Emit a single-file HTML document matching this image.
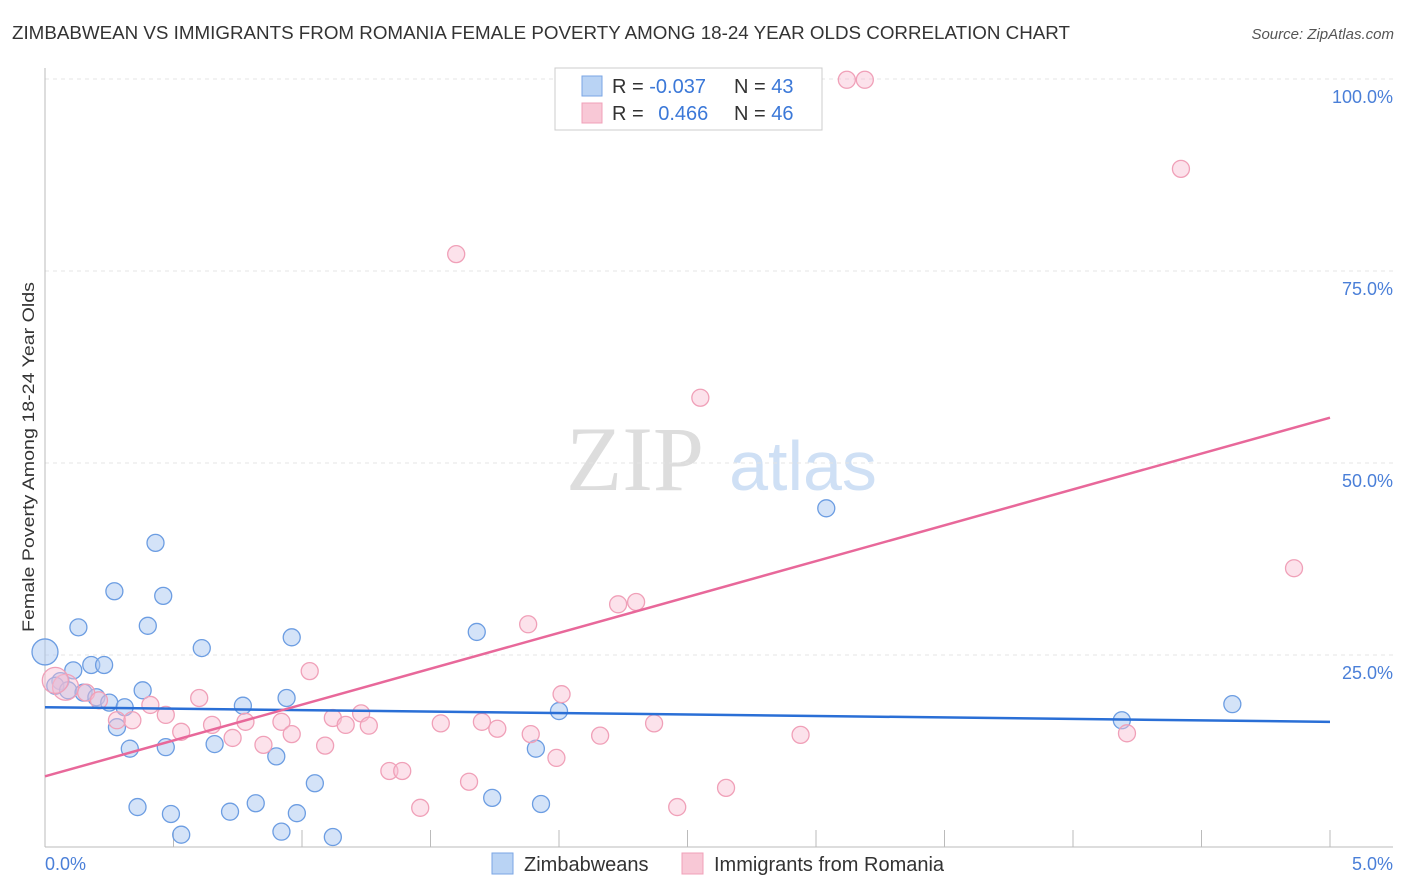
<!DOCTYPE html>
<html><head><meta charset="utf-8"><style>
body{margin:0;background:#fff;font-family:"Liberation Sans",sans-serif;}
svg{display:block}
</style></head><body>
<svg id="chart" width="1406" height="892" xmlns="http://www.w3.org/2000/svg">
<text x="12" y="39" font-size="18" fill="#333" textLength="1058" lengthAdjust="spacingAndGlyphs">ZIMBABWEAN VS IMMIGRANTS FROM ROMANIA FEMALE POVERTY AMONG 18-24 YEAR OLDS CORRELATION CHART</text>
<text x="1394" y="39" font-size="15" fill="#555" font-style="italic" text-anchor="end">Source: ZipAtlas.com</text>
<text x="0" y="0" transform="translate(34,457) rotate(-90)" font-size="17" fill="#333" text-anchor="middle" textLength="350" lengthAdjust="spacingAndGlyphs">Female Poverty Among 18-24 Year Olds</text>
<g>
<text x="635" y="490" font-size="92" font-family="Liberation Serif,serif" fill="#ddd" text-anchor="middle">ZIP</text>
<text x="803" y="490" font-size="70" fill="#cfe0f5" text-anchor="middle">atlas</text>
</g>
<g id="grid"></g>
<g id="axes"></g>
<g id="marks"></g>
<g>
<rect x="555" y="68" width="267" height="62" fill="#fff" stroke="#ccc"/>
<rect x="582" y="76" width="20" height="20" fill="#b9d3f4" stroke="#7aa6e4"/>
<rect x="582" y="103" width="20" height="20" fill="#f8c8d6" stroke="#f0a0b8"/>
<text x="612" y="93" font-size="20" fill="#333">R = <tspan fill="#3b78d8">-0.037</tspan></text>
<text x="734" y="93" font-size="20" fill="#333">N = <tspan fill="#3b78d8">43</tspan></text>
<text x="612" y="120" font-size="20" fill="#333">R = <tspan fill="#3b78d8" dx="9">0.466</tspan></text>
<text x="734" y="120" font-size="20" fill="#333">N = <tspan fill="#3b78d8">46</tspan></text>
</g>
<g>
<rect x="492" y="853" width="21" height="21" fill="#b9d3f4" stroke="#7aa6e4"/>
<text x="524" y="871" font-size="20" fill="#333">Zimbabweans</text>
<rect x="682" y="853" width="21" height="21" fill="#f8c8d6" stroke="#f0a0b8"/>
<text x="714" y="871" font-size="20" fill="#333">Immigrants from Romania</text>
</g>
</svg>
<script>
const blueX=[0.00,0.13,0.27,0.43,0.46,0.40,0.61,0.11,0.18,0.23,0.06,0.04,0.09,0.15,0.20,0.25,0.31,0.28,0.38,0.33,0.47,0.66,0.77,0.94,0.96,0.90,1.05,0.36,0.49,0.72,0.82,0.98,0.53,0.92,1.12,1.68,2.00,1.91,1.74,1.93,3.04,4.19,4.62];
const blueY=[25.4,28.6,33.3,39.6,32.7,28.8,25.9,23.0,23.7,23.7,21.6,21.0,20.4,20.1,19.5,18.8,18.2,15.6,20.4,12.8,13.0,13.4,18.4,19.4,27.3,11.8,8.3,5.2,4.3,4.6,5.7,4.4,1.6,2.0,1.3,28.0,17.7,12.8,6.4,5.6,44.1,16.5,18.6];
const pinkX=[3.12,3.19,4.42,1.60,2.55,4.86,2.23,2.30,1.88,1.03,2.01,0.60,0.16,0.08,0.04,0.21,0.41,0.47,0.53,0.28,0.34,0.65,0.73,0.78,0.85,0.92,0.96,1.09,1.12,1.17,1.23,1.26,1.54,1.70,1.76,1.89,2.16,2.37,2.94,4.21,1.34,1.39,1.65,1.99,1.46,2.46,2.65];
const pinkY=[99.9,99.9,88.3,77.2,58.5,36.3,31.6,31.9,29.0,22.9,19.9,19.4,20.1,20.8,21.7,19.1,18.5,17.2,15.0,16.5,16.5,15.9,14.2,16.3,13.3,16.3,14.7,13.2,16.8,15.9,17.4,15.8,16.1,16.3,15.4,14.7,14.5,16.1,14.6,14.8,9.9,9.9,8.5,11.6,5.1,5.2,7.7];
const blueTrend=[18.2,16.3];
const pinkTrend=[9.2,55.9];
const yTicks=[25,50,75,100];
const yTickLabels=["25.0%","50.0%","75.0%","100.0%"];
const xTicks=[0,0.5,1,1.5,2,2.5,3,3.5,4,4.5,5];
const NS="http://www.w3.org/2000/svg";
const sx=v=>45+v*257, sy=v=>847-v*7.68;
function mk(t,a,p){const e=document.createElementNS(NS,t);for(const k in a)e.setAttribute(k,a[k]);p.appendChild(e);return e;}
const grid=document.getElementById('grid'),axes=document.getElementById('axes'),marks=document.getElementById('marks');
yTicks.forEach((v,i)=>{
 const l=mk('line',{x1:45,x2:1393,y1:sy(v),y2:sy(v),stroke:'#e4e4e4','stroke-dasharray':'4,4'},grid);
 
 
 const t=mk('text',{x:1393,y:sy(v)+24,'font-size':18,fill:'#4a7fd8','text-anchor':'end'},axes);
 t.textContent=yTickLabels[i];
 
 
});
mk('line',{x1:45,x2:45,y1:68,y2:847,stroke:'#bbb'},axes);
mk('line',{x1:45,x2:1393,y1:847,y2:847,stroke:'#bbb'},axes);
xTicks.forEach(v=>{const l=mk('line',{x1:sx(v),x2:sx(v),y1:830,y2:847,stroke:'#bbb'},axes);
 
 });
const x0=mk('text',{x:45,y:870,'font-size':18,fill:'#4a7fd8'},axes);x0.textContent='0.0%';


const x1=mk('text',{x:1393,y:870,'font-size':18,fill:'#4a7fd8','text-anchor':'end'},axes);x1.textContent='5.0%';


blueX.forEach((x,i)=>{const c=mk('circle',{cx:sx(x),cy:sy(blueY[i]),r:i===0?13:8.5,fill:'rgba(170,200,242,0.5)',stroke:'#6c9de2','stroke-width':1.3},marks);
 
 });
pinkX.forEach((x,i)=>{const c=mk('circle',{cx:sx(x),cy:sy(pinkY[i]),r:(i===13||i===14)?13:8.5,fill:'rgba(248,190,210,0.45)',stroke:'#f0a0b8','stroke-width':1.3},marks);
 
 });
const bl=mk('line',{x1:sx(0),x2:sx(5),y1:sy(blueTrend[0]),y2:sy(blueTrend[1]),stroke:'#2a6fd6','stroke-width':2.5},marks);


const pl=mk('line',{x1:sx(0),x2:sx(5),y1:sy(pinkTrend[0]),y2:sy(pinkTrend[1]),stroke:'#e8689a','stroke-width':2.5},marks);


</script>
</body></html>
